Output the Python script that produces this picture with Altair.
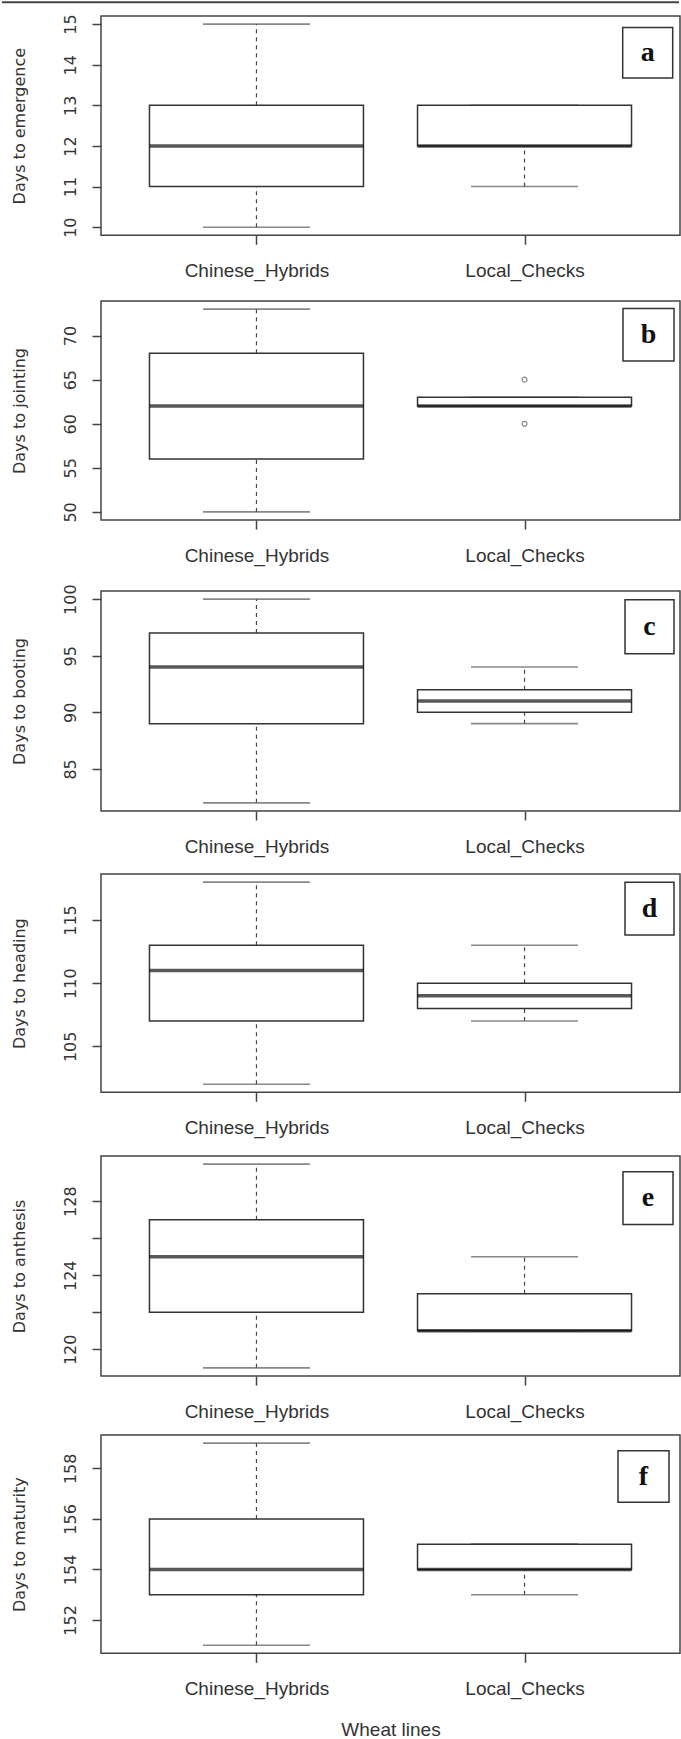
import altair as alt
import pandas as pd

groups = ["Chinese_Hybrids", "Local_Checks"]
panel_letters = ["a", "b", "c", "d", "e", "f"]
y_titles = ["Days to emergence", "Days to jointing", "Days to booting",
            "Days to heading", "Days to anthesis", "Days to maturity"]

# five-number summaries per panel: [Chinese_Hybrids, Local_Checks]
mins = [[10, 11], [50, 62], [82, 89], [102, 107], [119, 121], [151, 153]]
q1s = [[11, 12], [56, 62], [89, 90], [107, 108], [122, 121], [153, 154]]
meds = [[12, 12], [62, 62], [94, 91], [111, 109], [125, 121], [154, 154]]
q3s = [[13, 13], [68, 63], [97, 92], [113, 110], [127, 123], [156, 155]]
maxs = [[15, 13], [73, 63], [100, 94], [118, 113], [130, 125], [159, 155]]

# outliers
outlier_panel = [1, 1]
outlier_group = ["Local_Checks", "Local_Checks"]
outlier_value = [65, 60]

y_ticks = [[10, 11, 12, 13, 14, 15], [50, 55, 60, 65, 70], [85, 90, 95, 100],
           [105, 110, 115], [120, 122, 124, 126, 128], [152, 154, 156, 158]]
x_title = "Wheat lines"

# layout (pixels)
W = 579
heights = [219.3, 219, 220, 218.3, 220, 218.3]
gaps = [64.3, 71, 62.4, 62.3, 58.7]
label_boxes = [(521.7, 571.7, 11.6, 62), (522, 573, 7.4, 60), (524, 573, 8.7, 62.7),
               (524, 573, 8.3, 61), (522, 572, 15.7, 68.4), (517, 568, 15.7, 67.3)]

INK = "#333333"
LINE = "#444444"


def panel(i):
    df = pd.DataFrame({"group": groups, "min": mins[i], "q1": q1s[i], "med": meds[i],
                       "q3": q3s[i], "max": maxs[i]})
    out = pd.DataFrame({"group": [g for p, g in zip(outlier_panel, outlier_group) if p == i],
                        "value": [v for p, v in zip(outlier_panel, outlier_value) if p == i]})
    vals = mins[i] + maxs[i] + list(out["value"])
    lo, hi = min(vals), max(vals)
    pad = 0.04 * (hi - lo)
    h = heights[i]
    yscale = alt.Scale(domain=[lo - pad, hi + pad], nice=False, zero=False)
    label_expr = "datum.value % 4 == 0 ? datum.label : ''" if i == 4 else "datum.label"
    yaxis = alt.Axis(values=y_ticks[i], labelExpr=label_expr, title=y_titles[i],
                     labelAngle=270, labelAlign="center", labelBaseline="alphabetic",
                     labelPadding=17, tickSize=9, tickColor=LINE, tickWidth=1.5,
                     labelFont="DejaVu Sans", labelFontSize=16, labelColor=INK,
                     labelOverlap=False, labelFlush=False, labelBound=False,
                     domain=False, grid=False,
                     titleX=-77, titleY=h / 2, titleAngle=270, titleAlign="center",
                     titleBaseline="alphabetic", titleFont="DejaVu Sans", titleFontSize=16,
                     titleFontWeight="normal", titleColor=INK)
    is_last = i == len(panel_letters) - 1
    xaxis_kwargs = dict(labelAngle=0, labelAlign="center", labelBaseline="top",
                        labelPadding=17, tickSize=9, tickColor=LINE, tickWidth=1.5,
                        labelFont="Liberation Sans", labelFontSize=19, labelColor=INK,
                        domain=False, grid=False, labelOverlap=False)
    if is_last:
        xaxis = alt.Axis(title=x_title, titleFont="Liberation Sans", titleFontSize=19,
                         titleFontWeight="normal", titleColor=INK, titleY=82,
                         titleBaseline="alphabetic", **xaxis_kwargs)
    else:
        xaxis = alt.Axis(title=None, **xaxis_kwargs)
    xscale = alt.Scale(type="point", padding=0.58, domain=groups)

    def X():
        return alt.X("group:N", scale=xscale, axis=xaxis, sort=groups)

    def Y(field):
        return alt.Y(field, type="quantitative", scale=yscale, axis=yaxis)

    base = alt.Chart(df)
    whisk_lo = base.mark_rule(strokeDash=[4, 4], color=LINE, strokeWidth=1.2).encode(
        x=X(), y=Y("min"), y2="q1:Q")
    whisk_hi = base.mark_rule(strokeDash=[4, 4], color=LINE, strokeWidth=1.2).encode(
        x=X(), y=Y("q3"), y2="max:Q")
    cap_lo = base.mark_tick(size=107, thickness=1.6, color="#555555").encode(x=X(), y=Y("min"))
    cap_hi = base.mark_tick(size=107, thickness=1.6, color="#555555").encode(x=X(), y=Y("max"))
    box = base.mark_bar(size=214, fill="white", stroke=INK, strokeWidth=1.5).encode(
        x=X(), y=Y("q1"), y2="q3:Q")
    med = base.mark_tick(size=214, thickness=3.5, color="#111111").encode(x=X(), y=Y("med"))
    layers = [whisk_lo, whisk_hi, cap_lo, cap_hi, box, med]
    if len(out):
        pts = alt.Chart(out).mark_point(shape="circle", size=24, filled=False,
                                         stroke="#555555", strokeWidth=1.2).encode(
            x=X(), y=Y("value"))
        layers.append(pts)
    x1, x2, y1, y2 = label_boxes[i]
    lab = pd.DataFrame({"letter": [panel_letters[i]]})
    lbox = alt.Chart(lab).mark_rect(fill="white", stroke=INK, strokeWidth=1.5).encode(
        x=alt.value(x1), x2=alt.value(x2), y=alt.value(y1), y2=alt.value(y2))
    ltxt = alt.Chart(lab).mark_text(font="Liberation Serif", fontWeight="bold", fontSize=28,
                                    align="center", baseline="middle", color="#111111").encode(
        x=alt.value((x1 + x2) / 2), y=alt.value((y1 + y2) / 2), text="letter:N")
    layers += [lbox, ltxt]
    if i == 0:
        top = alt.Chart(lab).mark_rule(color=LINE, strokeWidth=2).encode(
            x=alt.value(-99), x2=alt.value(W - 1), y=alt.value(-13.7))
        layers.append(top)
    return alt.layer(*layers).properties(width=W, height=h)


def spacer(g):
    return alt.Chart(pd.DataFrame({"s": [0]})).mark_point(opacity=0).encode(
        x=alt.value(0), y=alt.value(0)).properties(
        width=W, height=g, view=alt.ViewBackground(strokeOpacity=0, fillOpacity=0))


items = []
for i in range(len(panel_letters)):
    items.append(panel(i))
    if i < len(gaps):
        items.append(spacer(gaps[i]))

chart = alt.vconcat(*items, spacing=0, bounds="flush", padding=0,
                    background="white").configure_view(
    stroke=LINE, strokeWidth=1.5, fill="white")

chart.save("out.html", embed_options={"renderer": "svg", "actions": False})
